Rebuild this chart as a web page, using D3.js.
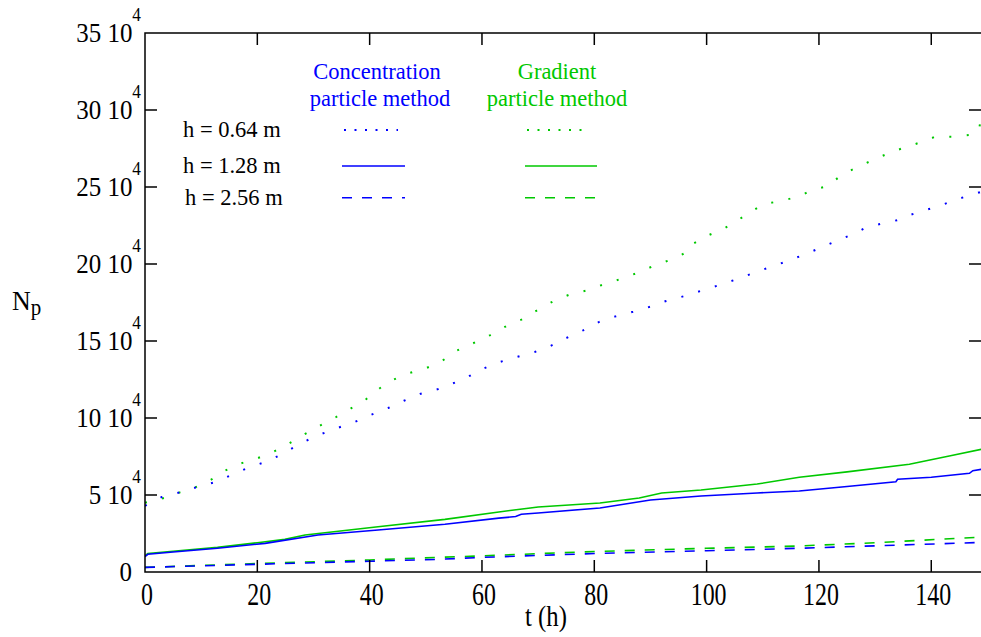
<!DOCTYPE html>
<html>
<head>
<meta charset="utf-8">
<script src="https://cdn.jsdelivr.net/npm/d3@7"></script>
<style>
  body { margin: 0; background: #fff; }
  svg { display: block; font-family: "Liberation Serif", "DejaVu Serif", serif; }
</style>
</head>
<body>
<svg id="chart" width="981" height="637"></svg>
<script>
// series: [t (h), Np / 10^4]
var conc064 = [[0,4.3],[3,4.87],[6.2,5.17],[9.5,5.54],[12.6,5.84],[15.5,6.32],[18.6,6.8],[21.8,7.19],[24.7,7.71],[27.6,8.33],[30.6,8.85],[34.1,9.33],[37.2,9.72],[40.3,10.21],[43.3,10.65],[46.1,11.12],[49.1,11.58],[52.2,11.88],[56.8,12.53],[59.6,13.1],[62.7,13.59],[66.2,13.96],[69.4,14.29],[72.2,14.68],[75,15.19],[78,15.69],[80.8,16.23],[83.8,16.6],[86.9,16.9],[90,17.23],[92.8,17.6],[96.6,17.97],[99.6,18.33],[102.7,18.68],[105.7,19.05],[108.8,19.48],[111.9,19.87],[114.9,20.26],[117.8,20.67],[120.7,21.12],[123.5,21.56],[126.2,21.95],[128.3,22.36],[131.4,22.64],[134.6,22.9],[136,23.16],[138.6,23.46],[141.6,23.79],[144.4,24.18],[147.5,24.53],[149,24.7]];
var grad064 = [[0,4.5],[1.3,4.6],[4.7,4.94],[6.2,5.17],[7.9,5.34],[11,5.8],[13.8,6.5],[16.6,7.0],[19.7,7.34],[22.7,7.77],[25.7,8.36],[28.6,8.98],[31.4,9.55],[34,10.06],[36.8,10.65],[39.4,11.23],[41.8,11.93],[44,12.45],[46.5,12.86],[49.7,13.18],[52.7,13.66],[55.5,14.37],[58.4,14.85],[61.4,15.37],[64.5,16],[67.3,16.43],[70.1,17.06],[72.8,17.6],[75.5,18.0],[78.8,18.3],[81.7,18.68],[84.9,19.05],[88.1,19.48],[91,19.95],[94.2,20.35],[96.4,20.76],[97.3,21.25],[99.9,21.8],[103.1,22.3],[105.8,22.9],[107.3,23.25],[110.1,23.88],[113.3,24.1],[116.6,24.4],[118.6,24.8],[121.6,25.06],[124,25.78],[126.9,26.3],[129.9,26.8],[133.1,27.3],[136.1,27.66],[139.3,28.05],[140.7,28.27],[144,28.27],[147.3,28.4],[148.5,28.7],[148.8,29.4],[149,30.0]];
var conc128 = [[0,1.0],[0.5,1.15],[5,1.3],[12.9,1.54],[21.4,1.86],[30.8,2.4],[41.5,2.73],[53.4,3.1],[63,3.5],[66,3.6],[67,3.75],[70,3.83],[81,4.16],[90,4.68],[99,4.94],[109,5.13],[116.5,5.26],[125,5.55],[133.7,5.86],[134,6.02],[140,6.15],[146.8,6.41],[147.4,6.58],[149,6.67]];
var grad128 = [[0,1.05],[0.5,1.2],[5,1.35],[12.9,1.6],[20,1.9],[24.9,2.12],[28.5,2.4],[41.5,2.94],[53.4,3.42],[63,3.9],[70,4.22],[81,4.48],[88,4.8],[92,5.13],[99,5.32],[109,5.71],[116.5,6.15],[125,6.5],[136.1,7.0],[139.1,7.23],[143.2,7.53],[149,7.97]];
var conc256 = [[0,0.3],[20,0.5],[40,0.7],[52.2,0.82],[60,0.95],[80,1.2],[100,1.38],[116.5,1.54],[130,1.7],[149,1.92]];
var grad256 = [[0,0.3],[20,0.55],[40,0.78],[52.2,0.95],[60,1.05],[80,1.33],[100,1.54],[116.5,1.69],[130,1.9],[149,2.27]];

var xTicks = [0,20,40,60,80,100,120,140];
var yTicks = [0,5,10,15,20,25,30,35];
var legendRows = ["h = 0.64 m","h = 1.28 m","h = 2.56 m"];
var methods = [["Concentration","particle method"],["Gradient","particle method"]];

var blue = "#0000ff", green = "#00c800";

var svg = d3.select("#chart");
// note: "top" is taken by window.top, so use pl/pr/pt/pb
var pl = 145, pr = 983.5, pt = 33, pb = 572;

var x = d3.scaleLinear().domain([0, 149.3]).range([pl, pr]);
var y = d3.scaleLinear().domain([0, 35]).range([pb, pt]);

svg.append("clipPath").attr("id", "plotclip")
  .append("rect")
  .attr("x", pl).attr("y", pt)
  .attr("width", pr - pl).attr("height", pb - pt);

var line = d3.line()
  .x(function(d) { return x(d[0]); })
  .y(function(d) { return y(d[1]); });

var series = [
  {data: grad256, color: green, dash: "10,10"},
  {data: conc256, color: blue, dash: "10,10"},
  {data: grad128, color: green, dash: null},
  {data: conc128, color: blue, dash: null},
  {data: grad064, color: green, dash: "2,15.5"},
  {data: conc064, color: blue, dash: "2,15.5"}
];

svg.append("g").attr("clip-path", "url(#plotclip)")
  .selectAll("path")
  .data(series)
  .enter().append("path")
  .attr("d", function(d) { return line(d.data); })
  .attr("fill", "none")
  .attr("stroke", function(d) { return d.color; })
  .attr("stroke-width", function(d) { return d.dash == "2,15.5" ? 2 : 1.6; })
  .attr("stroke-dasharray", function(d) { return d.dash; });

// frame with inward ticks on all four sides (right edge falls just off the picture)
var tickLen = 12;
var frame = svg.append("g").attr("stroke", "#000").attr("stroke-width", 1.5);

frame.append("rect")
  .attr("x", pl).attr("y", pt)
  .attr("width", pr - pl).attr("height", pb - pt)
  .attr("fill", "none");

frame.selectAll(".xb").data(xTicks.slice(1)).enter().append("line")
  .attr("x1", function(d) { return x(d); }).attr("x2", function(d) { return x(d); })
  .attr("y1", pb).attr("y2", pb - tickLen);
frame.selectAll(".xt").data(xTicks.slice(1)).enter().append("line")
  .attr("x1", function(d) { return x(d); }).attr("x2", function(d) { return x(d); })
  .attr("y1", pt).attr("y2", pt + tickLen);
frame.selectAll(".yl").data(yTicks.slice(1, -1)).enter().append("line")
  .attr("x1", pl).attr("x2", pl + tickLen)
  .attr("y1", function(d) { return y(d); }).attr("y2", function(d) { return y(d); });
frame.selectAll(".yr").data(yTicks.slice(1, -1)).enter().append("line")
  .attr("x1", 981).attr("x2", 981 - tickLen)
  .attr("y1", function(d) { return y(d); }).attr("y2", function(d) { return y(d); });

// x tick labels (a little tall and narrow like the original)
svg.append("g").selectAll("text").data(xTicks).enter().append("text")
  .attr("transform", function(d) { return "translate(" + (x(d) + 2) + ",605) scale(0.92,1.2)"; })
  .attr("text-anchor", "middle")
  .attr("font-size", 26)
  .text(function(d) { return d; });

// y tick labels, "N 10" with superscript 4
var ylab = svg.append("g").selectAll("text").data(yTicks).enter().append("text")
  .attr("transform", function(d) {
    return "translate(" + (d == 0 ? 132 : 141) + "," + (y(d) + 9) + ") scale(0.96,1.08)";
  })
  .attr("text-anchor", "end")
  .attr("font-size", 26);
ylab.each(function(d) {
  var t = d3.select(this);
  if (d == 0) { t.text("0"); return; }
  t.append("tspan").text(d + " 10");
  t.append("tspan").attr("dy", -19).attr("font-size", 18).text("4");
});

// axis titles
var ny = svg.append("text").attr("transform", "translate(12,310) scale(1,1.08)").attr("font-size", 26);
ny.append("tspan").text("N");
ny.append("tspan").attr("dy", 5).attr("font-size", 21).text("p");

svg.append("text")
  .attr("transform", "translate(546,626) scale(0.95,1.15)")
  .attr("text-anchor", "middle")
  .attr("font-size", 26)
  .text("t (h)");

// legend
var legX = [[344, 398], [527, 590]];
var legY = [130, 166, 197.7];
var legDash = ["2,8.5", null, "10,10"];
var colors = [blue, green];
var titleX = [377, 557];

methods.forEach(function(m, i) {
  svg.append("text").attr("x", titleX[i]).attr("y", 79)
    .attr("text-anchor", "middle").attr("font-size", 22.5)
    .attr("fill", colors[i]).text(m[0]);
  svg.append("text").attr("x", titleX[i] + (i == 0 ? 3 : 0)).attr("y", 106)
    .attr("text-anchor", "middle").attr("font-size", 22.5)
    .attr("fill", colors[i]).text(m[1]);
  legendRows.forEach(function(r, j) {
    svg.append("line")
      .attr("x1", legX[i][0] - (j ? 2 : 0)).attr("x2", legX[i][1] + (j ? 7 : 0))
      .attr("y1", legY[j]).attr("y2", legY[j])
      .attr("stroke", colors[i])
      .attr("stroke-width", j == 0 ? 2 : 1.6)
      .attr("stroke-dasharray", legDash[j]);
  });
});

svg.append("g").selectAll("text").data(legendRows).enter().append("text")
  .attr("x", function(d, j) { return j == 2 ? 185 : 183; })
  .attr("y", function(d, j) { return legY[j] + 7; })
  .attr("font-size", 22.5)
  .text(function(d) { return d; });
</script>
</body>
</html>
